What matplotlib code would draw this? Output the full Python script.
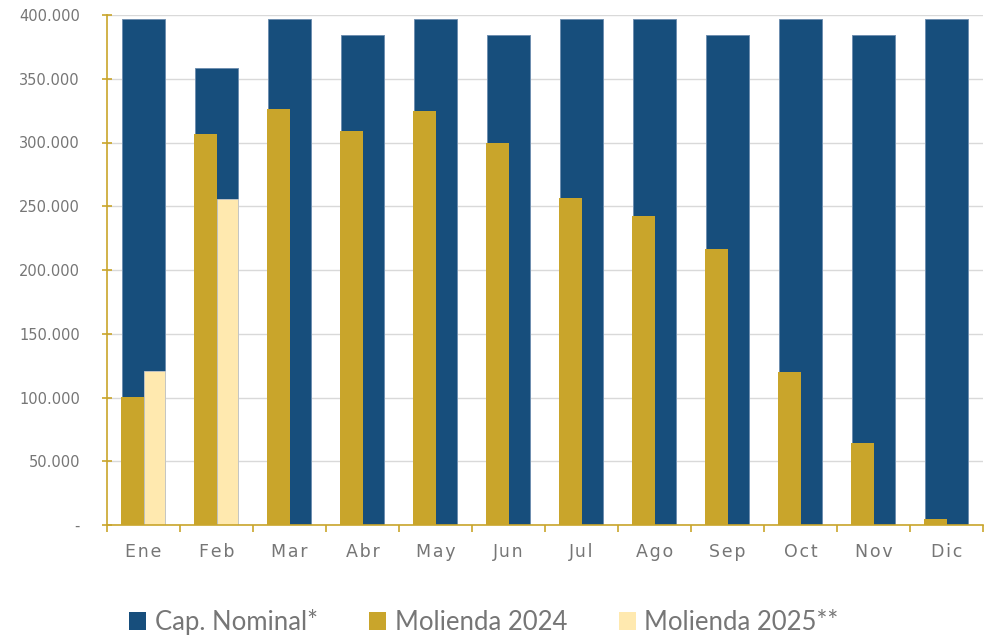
import numpy as np
import matplotlib.pyplot as plt
from matplotlib.ticker import FuncFormatter, FixedLocator

# Data
months = ["Ene", "Feb", "Mar", "Abr", "May", "Jun",
          "Jul", "Ago", "Sep", "Oct", "Nov", "Dic"]
cap_nominal = [396800, 358400, 396800, 384000, 396800, 384000,
               396800, 396800, 384000, 396800, 384000, 396800]
molienda_2024 = [100500, 306500, 326000, 309000, 325000, 299500,
                 256500, 242500, 216500, 120000, 64500, 4800]
molienda_2025 = [120800, 255800, 0, 0, 0, 0, 0, 0, 0, 0, 0, 0]

blue = "#174E7C"
gold = "#C9A52B"
light = "#FFE9AF"
text_grey = "#767676"

fig = plt.figure(figsize=(9.93, 6.35), dpi=100)
ax = fig.add_axes([107 / 993, 1 - 525 / 635, 876 / 993, 510 / 635])

x = np.arange(len(months))
ax.bar(x, cap_nominal, width=0.59, color=blue, edgecolor="#6F8FB0",
       linewidth=0.7, zorder=2, label="Cap. Nominal*")
ax.bar(x - 0.15, molienda_2024, width=0.31, color=gold, linewidth=0,
       zorder=3, label="Molienda 2024")
m25 = [v if v > 0 else np.nan for v in molienda_2025]
ax.bar(x + 0.145, m25, width=0.29, color=light, edgecolor="#C8C8C8",
       linewidth=0.6, zorder=3, label="Molienda 2025**")

ax.set_xlim(-0.5, len(months) - 0.5)
ax.set_ylim(0, 400000)
ax.set_yticks(np.arange(0, 400001, 50000))
ax.yaxis.set_major_formatter(FuncFormatter(
    lambda v, p: "-" if v == 0 else f"{int(v):,}".replace(",", ".")))
ax.set_xticks(x)
# slightly spaced-out month labels, as in the reference
ax.set_xticklabels(["\u200a".join(m) for m in months])
ax.xaxis.set_minor_locator(FixedLocator(np.arange(-0.5, len(months), 1)))
ax.tick_params(axis="x", which="major", length=0, pad=13,
               labelsize=12.5, labelcolor=text_grey)
ax.tick_params(axis="x", which="minor", length=5, width=1.2, color=gold,
               direction="out")
ax.tick_params(axis="y", length=7, width=1.2, color=gold, direction="inout",
               pad=16, labelsize=10.5, labelcolor=text_grey)
for lab in ax.get_xticklabels():
    lab.set_fontfamily("DejaVu Sans")

ax.grid(axis="y", color="#D9D9D9", linewidth=1, zorder=0)
ax.set_axisbelow(True)
for s in ["top", "right"]:
    ax.spines[s].set_visible(False)
for s in ["left", "bottom"]:
    ax.spines[s].set_color(gold)
    ax.spines[s].set_linewidth(1.2)
    ax.spines[s].set_zorder(4)

leg = fig.legend(loc="center", bbox_to_anchor=(484 / 993, 1 - 622 / 635),
                 ncol=3, frameon=False, handlelength=0.65, handleheight=0.65,
                 handletextpad=0.35, columnspacing=2.0,
                 prop={"family": "Lato", "size": 18.5})
for t in leg.get_texts():
    t.set_color(text_grey)
for h in leg.legend_handles:
    h.set_linewidth(0)

fig.savefig("out.png", dpi=100)
